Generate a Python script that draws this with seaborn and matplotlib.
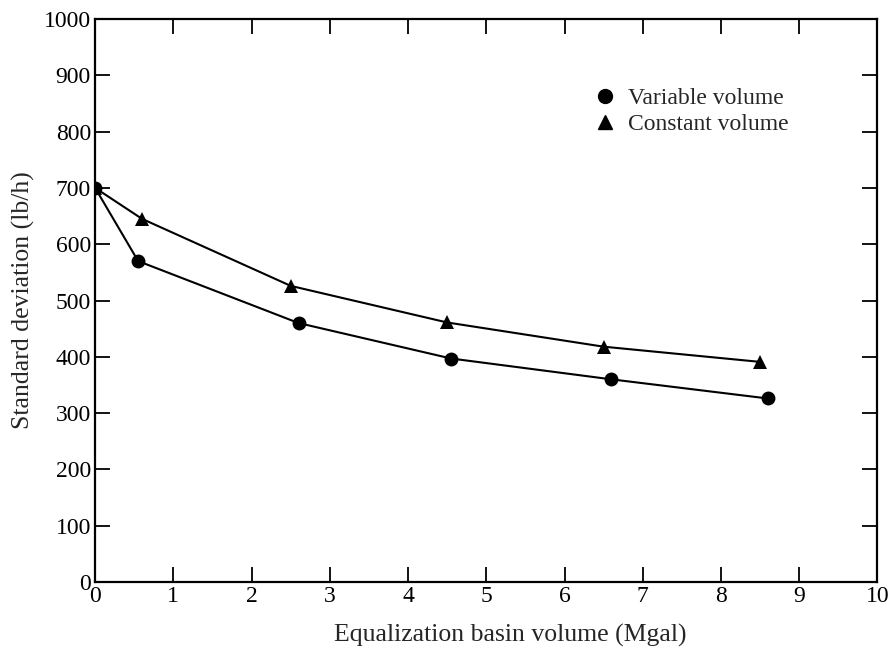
import pandas as pd
import seaborn as sns
import matplotlib.pyplot as plt
from matplotlib.lines import Line2D

# Valores
var_x = [0, 0.55, 2.6, 4.55, 6.6, 8.6]
var_y = [700, 570, 460, 397, 360, 326]
con_x = [0, 0.6, 2.5, 4.5, 6.5, 8.5]
con_y = [700, 645, 526, 461, 418, 391]
x_ticks = list(range(0, 11))
y_ticks = list(range(0, 1001, 100))

sns.set_theme(style="ticks")
plt.rcParams['font.family'] = ['Liberation Serif', 'DejaVu Serif']


def gerar_grafico():
    df = pd.concat([
        pd.DataFrame({'x': var_x, 'y': var_y, 'serie': 'Variable volume'}),
        pd.DataFrame({'x': con_x, 'y': con_y, 'serie': 'Constant volume'}),
    ], ignore_index=True)

    fig = plt.figure(figsize=(8.89, 6.54), dpi=100)
    ax = fig.add_axes([0.107, 0.110, 0.880, 0.861])

    sns.lineplot(data=df, x='x', y='y', hue='serie', style='serie',
                 palette={'Variable volume': 'black', 'Constant volume': 'black'},
                 markers={'Variable volume': 'o', 'Constant volume': '^'},
                 dashes=False, markersize=10, markeredgewidth=0,
                 linewidth=1.5, sort=False, ax=ax, legend=False)

    ax.set_xlim(0, 10)
    ax.set_ylim(0, 1000)
    ax.set_xticks(x_ticks)
    ax.set_yticks(y_ticks)
    ax.tick_params(direction='in', top=True, right=True, length=11,
                   width=1.3, labelsize=17, pad=3, colors='black')
    for s in ax.spines.values():
        s.set_linewidth(1.6)
        s.set_color('black')

    ax.set_xlabel('Equalization basin volume (Mgal)', fontsize=18.5, labelpad=12)
    ax.set_ylabel('Standard deviation (lb/h)', fontsize=18.5, labelpad=6)
    # o rótulo do eixo x está um pouco deslocado para a direita no original
    ax.xaxis.set_label_coords(0.53, -0.075)

    handles = [
        Line2D([], [], color='black', marker='o', linestyle='none', markersize=10),
        Line2D([], [], color='black', marker='^', linestyle='none', markersize=10),
    ]
    ax.legend(handles, ['Variable volume', 'Constant volume'], loc='upper left',
              bbox_to_anchor=(0.628, 0.895), frameon=False, fontsize=17,
              handlelength=0.8, handletextpad=0.55, labelspacing=0.2,
              borderaxespad=0)

    fig.savefig('out.png', dpi=100, facecolor='white')
    plt.close(fig)


if __name__ == "__main__":
    gerar_grafico()
